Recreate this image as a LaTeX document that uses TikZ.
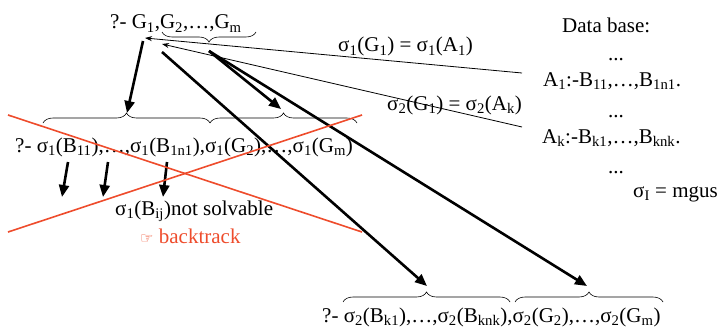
\documentclass[tikz,border=0pt]{standalone}
\usepackage{fontspec}
\setmainfont{Liberation Serif}
\newfontfamily\handfont{DejaVu Sans}
\usetikzlibrary{arrows.meta,decorations.pathreplacing}
\definecolor{xred}{RGB}{238,76,44}
\newcommand{\sub}[1]{\textsubscript{#1}}

\begin{document}
\begin{tikzpicture}[x=1pt,y=-1pt,font=\fontsize{21}{23}\selectfont,
  txt/.style={anchor=base west,inner sep=0pt},
  bigarrow/.style={line width=2.6pt,-{Triangle[length=12pt,width=10pt]}},
  thinarrow/.style={line width=0.8pt,-{Stealth[length=7pt,width=5pt]}},
  goalbrace/.style={decorate,decoration={brace,amplitude=10pt},line width=0.6pt},
  cross/.style={xred,line width=1.6pt}]
  \useasboundingbox (0,0) rectangle (722,329);

  % Goals
  \node[txt] (goal) at (110,29) {?- G\sub{1},G\sub{2},…,G\sub{m}};
  \node[txt] (lowgoal) at (15,152) {?- σ\sub{1}(B\sub{11}),…,σ\sub{1}(B\sub{1n1}),σ\sub{1}(G\sub{2}),…,σ\sub{1}(G\sub{m})};
  \node[txt] (bottomgoal) at (322,322) {?- σ\sub{2}(B\sub{k1}),…,σ\sub{2}(B\sub{knk}),σ\sub{2}(G\sub{2}),…,σ\sub{2}(G\sub{m})};

  % Data base
  \node[txt] (db) at (562,33) {Data base:};
  \node[txt] (dots1) at (608,60) {...};
  \node[txt] (clauseA) at (543,86) {A\sub{1}:-B\sub{11},…,B\sub{1n1}.};
  \node[txt] (dots2) at (608,117) {...};
  \node[txt] (clauseK) at (542,143) {A\sub{k}:-B\sub{k1},…,B\sub{knk}.};
  \node[txt] (dots3) at (608,173) {...};
  \node[txt] (mgus) at (633,197) {σ\sub{I} = mgus};

  % Unifiers
  \node[txt] (unifyA) at (338,52) {σ\sub{1}(G\sub{1}) = σ\sub{1}(A\sub{1})};
  \node[txt] (unifyK) at (387,110) {σ\sub{2}(G\sub{1}) = σ\sub{2}(A\sub{k})};

  % Braces
  \draw[goalbrace] (256,32) -- (162,32);
  \draw[goalbrace] (43,123) -- (210,123);
  \draw[goalbrace] (210,123) -- (357,123);
  \draw[goalbrace] (343,302) -- (510,302);
  \draw[goalbrace] (515,302) -- (663,302);

  % Points
  \coordinate (topG1) at (145,38);
  \coordinate (topG1b) at (162,44);
  \coordinate (fromG1) at (143,41);
  \coordinate (fromG1b) at (162,52);
  \coordinate (fromRest) at (209,51);
  \coordinate (endA) at (522,73);
  \coordinate (endK) at (522,127);
  \coordinate (tipB) at (127,113);
  \coordinate (tipG) at (281,109);
  \coordinate (tipBk) at (427,286);
  \coordinate (tipGk) at (587,286);

  % Unification lines
  \draw[thinarrow] (endA) -- (topG1);
  \draw[thinarrow] (endK) -- (topG1b);

  % Resolution steps
  \draw[bigarrow] (fromG1) -- (tipB);
  \draw[bigarrow] (fromRest) -- (tipG);
  \draw[bigarrow] (fromG1b) -- (tipBk);
  \draw[bigarrow] (fromRest) -- (tipGk);

  % Failing subgoals
  \foreach \x/\y in {68/62,108/103,167/163}
    \draw[bigarrow] (\x,162) -- (\y,197);
  \node[txt] (fail) at (115,215) {σ\sub{1}(B\sub{ij})not solvable};
  \node[txt,text=xred] (back) at (140,243) {{\handfont\fontsize{15}{17}\selectfont ☞} backtrack};

  % Cross
  \draw[cross] (8,115) -- (362,232);
  \draw[cross] (8,232) -- (362,115);
\end{tikzpicture}
\end{document}
